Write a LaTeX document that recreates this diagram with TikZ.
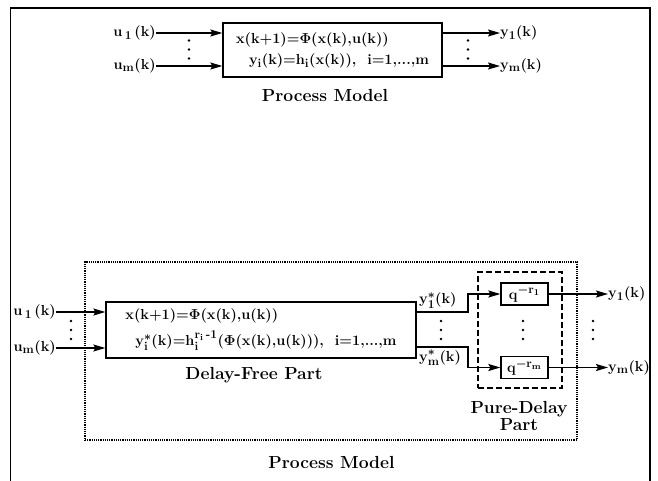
\documentclass[tikz,border=0pt]{standalone}
\usepackage{amsmath}
\usepackage{amssymb}
\usepackage{tikz}
\usetikzlibrary{arrows.meta,positioning}

\DeclareMathSizes{14.5}{14.5}{12}{9}
\tikzset{
    blk/.style={draw, line width=1.3pt, inner sep=0pt},
    lbl/.style={font=\fontsize{14.5}{17}\selectfont\bfseries\boldmath, inner sep=0pt},
    ttl/.style={font=\fontsize{17.5}{17}\selectfont\bfseries, inner sep=0pt, align=center},
    sig/.style={line width=1.3pt, -{Stealth[length=12pt,width=7pt,inset=2pt]}},
}
\newcommand{\dotcol}[1]{\foreach \dy in {-9,0,9} \fill (#1)++(0,\dy) circle (1.4pt);}

\begin{document}
\begin{tikzpicture}[x=1pt, y=-1pt]

        \useasboundingbox (0,0) rectangle (658,480);
        \draw[line width=1.8pt] (10.5,482) -- (10.5,8) -- (650,8) -- (650,482);

        \node[blk, lbl, minimum width=219pt, minimum height=54pt, align=left] (pm) at (332.5,50)
            {x(k+1)=$\Phi$(x(k),u(k))\\[4pt]\hspace*{13pt}y$_\mathrm{i}$(k)=h$_\mathrm{i}$(x(k)),\ \ i=1,...,m};
        \node[ttl] (pmttl) at (325,95) {Process Model};

        \node[lbl, anchor=east] (u1) at (156,33) {u\,$_1$\,(k)};
        \node[lbl, anchor=east] (um) at (156,66) {u$_\mathrm{m}$(k)};
        \node[lbl, anchor=west] (y1) at (500,33) {y$_1$(k)};
        \node[lbl, anchor=west] (ym) at (500,66) {y$_\mathrm{m}$(k)};

        \draw[sig] (u1.east) -- (u1.east -| pm.west);
        \draw[sig] (um.east) -- (um.east -| pm.west);
        \draw[sig] (pm.east |- y1) -- (y1.west);
        \draw[sig] (pm.east |- ym) -- (ym.west);
        \dotcol{189,49.5}
        \dotcol{468,49.5}

        \node[draw, densely dotted, line width=1.2pt, minimum width=492pt, minimum height=178pt] (pmbox) at (331,351) {};
        \node[ttl] (pmboxttl) at (331.5,462) {Process Model};

        \node[blk, lbl, minimum width=310pt, minimum height=56pt, align=left] (df) at (261,330)
            {x(k+1)=$\Phi$(x(k),u(k))\\[6pt]\hspace*{10pt}y$^*_\mathrm{i}$(k)=h$^{\mathrm{r}_\mathrm{i}\,\text{-}1}_\mathrm{i}$($\Phi$(x(k),u(k))),\ \ i=1,...,m};
        \node[ttl] (dfttl) at (254,375) {Delay-Free Part};

        \node[draw, line width=1.2pt, dash pattern=on 6pt off 3pt, minimum width=84pt, minimum height=116pt] (pd) at (520,330) {};
        \node[ttl] (pdttl) at (519,415.5) {Pure-Delay\\Part};
        \node[blk, lbl, minimum width=47pt, minimum height=22pt] (q1) at (524.5,294) {q$^{\mathrm{-r}_1}$};
        \node[blk, lbl, minimum width=47pt, minimum height=22pt] (qm) at (524.5,367.5) {q$^{\mathrm{-r}_\mathrm{m}}$};

        \node[lbl, anchor=east] (bu1) at (56,312) {u\,$_1$\,(k)};
        \node[lbl, anchor=east] (bum) at (56,348) {u$_\mathrm{m}$(k)};
        \draw[sig] (bu1.east) -- (bu1.east -| df.west);
        \draw[sig] (bum.east) -- (bum.east -| df.west);
        \dotcol{71,330}

        \coordinate (j1) at (468,312);
        \coordinate (jm) at (468,347);
        \draw[sig] (df.east |- j1) -- (j1) |- (q1.west);
        \draw[sig] (df.east |- jm) -- (jm) |- (qm.west);
        \node[lbl, anchor=south west] (ys1) at (419,309) {y$^*_1$(k)};
        \node[lbl, anchor=north west] (ysm) at (419,350) {y$^*_\mathrm{m}$(k)};
        \dotcol{441,330}
        \dotcol{523,330}

        \node[lbl, anchor=west] (by1) at (608,294) {y$_1$(k)};
        \node[lbl, anchor=west] (bym) at (608,367.5) {y$_\mathrm{m}$(k)};
        \draw[sig] (q1.east) -- (by1.west);
        \draw[sig] (qm.east) -- (bym.west);
        \dotcol{593,330}

    \end{tikzpicture}
\end{document}
